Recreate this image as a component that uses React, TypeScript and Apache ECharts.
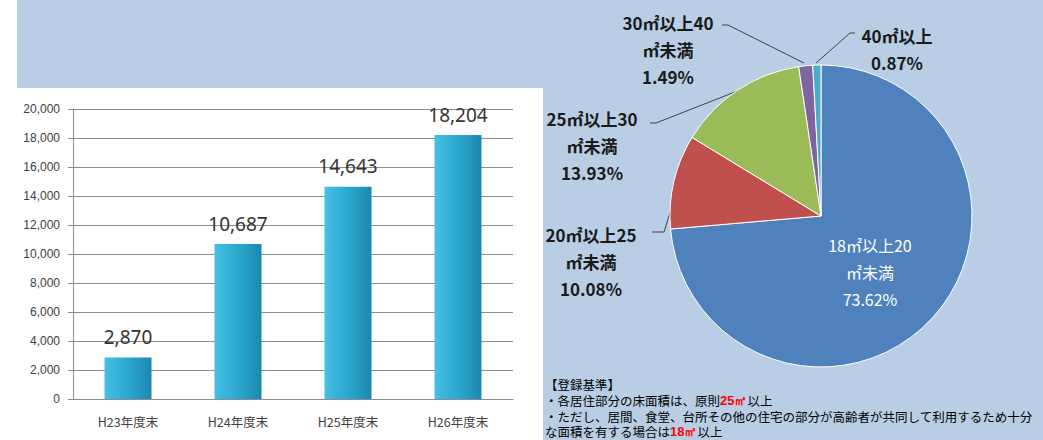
import React, { useEffect, useRef } from "react";
import * as echarts from "echarts";

const categories = ["H23年度末", "H24年度末", "H25年度末", "H26年度末"];
const counts = [2870, 10687, 14643, 18204];
const yMin = 0;
const yMax = 20000;
const yInterval = 2000;

const pieNames = ["18㎡以上20㎡未満", "20㎡以上25㎡未満", "25㎡以上30㎡未満", "30㎡以上40㎡未満", "40㎡以上"];
const pieShares = [73.62, 10.08, 13.93, 1.49, 0.87];
const pieColors = ["#4f81bd", "#c0504d", "#9bbb59", "#8064a2", "#4bacc6"];

const noteLines = [
  "【登録基準】",
  "・各居住部分の床面積は、原則{r|25㎡}以上",
  "・ただし、居間、食堂、台所その他の住宅の部分が高齢者が共同して利用するため十分",
  "な面積を有する場合は{r|18㎡}以上",
];
const noteY = [384, 400, 416, 431];

const labelSpots = [
  { x: 870, y: 272, line: null },
  { x: 591, y: 261, line: [[652, 232], [664, 232], [674, 200]] },
  { x: 592, y: 145, line: [[650, 123], [656, 123], [740, 90]] },
  { x: 668, y: 49, line: [[722, 25], [728, 25], [804, 63]] },
  { x: 897, y: 49, line: [[855, 33], [850, 33], [816, 63]] },
];

export default function App() {
  const ref = useRef<HTMLDivElement>(null);
  useEffect(() => {
    document.body.style.margin = "0";
    const chart = echarts.init(ref.current!, null, { renderer: "svg" });
    const option: any = {
      animation: false,
      backgroundColor: "#b9cde5",
      graphic: [
        { type: "rect", z: -10, shape: { x: 0, y: 0, width: 17, height: 88 }, style: { fill: "#ffffff" } },
        { type: "rect", z: -10, shape: { x: 0, y: 88, width: 543, height: 352 }, style: { fill: "#ffffff" } },
        ...noteLines.map((t, i) => ({
          type: "text",
          x: 545,
          y: noteY[i],
          style: {
            text: t,
            fontSize: 12.5,
            lineHeight: 13,
            verticalAlign: "middle",
            fontFamily: "Noto Sans CJK JP",
            fill: "#000",
            rich: {
              r: {
                fontSize: 13,
                lineHeight: 13,
                fontWeight: "bold",
                fill: "#ff0000",
                color: "#ff0000",
                fontFamily: "Liberation Sans",
              },
            },
          },
        })),
      ],
      grid: { left: 73, right: 530, top: 109, bottom: 41 },
      xAxis: {
        type: "category",
        data: categories,
        axisLine: { lineStyle: { color: "#8c8c8c" } },
        axisTick: { show: false },
        axisLabel: { color: "#404040", fontSize: 12.5, margin: 16, fontFamily: "Noto Sans CJK JP" },
      },
      yAxis: {
        type: "value",
        min: yMin,
        max: yMax,
        interval: yInterval,
        axisLine: { show: true, lineStyle: { color: "#8c8c8c" } },
        axisTick: { show: true, length: 5, lineStyle: { color: "#8c8c8c" } },
        splitLine: { lineStyle: { color: "#8c8c8c" } },
        axisLabel: {
          color: "#404040",
          fontSize: 12,
          margin: 13,
          fontFamily: "Liberation Sans",
          formatter: (v: number) => v.toLocaleString("en-US"),
        },
      },
      series: [
        {
          type: "bar",
          data: counts,
          barWidth: 47,
          itemStyle: {
            color: new echarts.graphic.LinearGradient(0, 0, 1, 0, [
              { offset: 0, color: "#46c0e2" },
              { offset: 0.5, color: "#2aa8d0" },
              { offset: 1, color: "#1c87ad" },
            ]),
          },
          label: {
            show: true,
            position: "top",
            distance: 11,
            fontSize: 19,
            color: "#333333",
            fontFamily: "Noto Sans",
            formatter: (p: any) => Number(p.value).toLocaleString("en-US"),
          },
        },
        {
          type: "pie",
          center: [821, 216],
          radius: 151,
          startAngle: 90,
          clockwise: true,
          itemStyle: { borderColor: "#ffffff", borderWidth: 1 },
          data: pieNames.map((n, i) => ({
            name: n,
            value: pieShares[i],
            itemStyle: { color: pieColors[i] },
            label:
              i === 0
                ? { color: "#ffffff", fontWeight: "normal", fontSize: 16 }
                : undefined,
            labelLine: i === 0 ? { show: false } : undefined,
          })),
          label: {
            show: true,
            position: "outside",
            overflow: "none",
            fontSize: 17,
            lineHeight: 27,
            fontWeight: "bold",
            color: "#1a1a1a",
            fontFamily: "Noto Sans CJK JP",
            align: "center",
            formatter: (p: any) =>
              p.name.replace(/以上(\d+)/, "以上$1\n") + "\n" + Number(p.value).toFixed(2) + "%",
          },
          labelLine: { show: true, lineStyle: { color: "#404040", width: 1 } },
          labelLayout: (params: any) => {
            const s = labelSpots[params.dataIndex];
            const r: any = { x: s.x, y: s.y, align: "center", verticalAlign: "middle" };
            if (s.line) r.labelLinePoints = s.line;
            return r;
          },
        },
      ],
    };
    chart.setOption(option);
    return () => chart.dispose();
  }, []);
  return <div ref={ref} style={{ width: 1043, height: 440 }} />;
}
